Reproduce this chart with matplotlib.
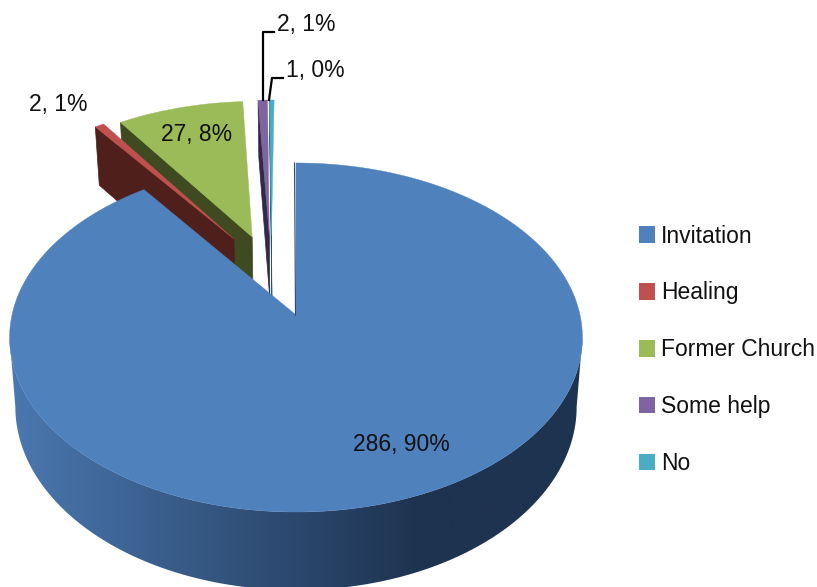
import numpy as np
import matplotlib
matplotlib.use("Agg")
import matplotlib.pyplot as plt
from matplotlib.patches import Patch, Polygon
from matplotlib.colors import LinearSegmentedColormap

# Data

categories = ["Invitation", "Healing", "Former Church", "Some help", "No"]
values = [286, 2, 27, 2, 1]

# Styles

top_colors = ["#4f81bd", "#c0504d", "#9bbb59", "#8064a2", "#4bacc6"]
wall_colors = ["#1f3552", "#4f1f1c", "#3f4a20", "#32284a", "#1f5866"]
offsets = [(0, 0), (-0.232, 0.470), (-0.164, 0.483), (-0.100, 0.494), (-0.092, 0.494)]
label_pos = [(401, 444), (58, 105), (197, 135), (306, 24), (315, 70)]

plt.rcParams["font.family"] = ["Liberation Sans Narrow", "Liberation Sans", "DejaVu Sans"]

# Perspective of the pie plane, fitted to the picture

CX, CY = 296, 315
K, A, C = 284.0, -131.0, 0.1289
DEPTH = 68
SHRINK = 0.98


def project(u, v):
    d = 1 + C * v
    return CX + K * u / d, (A * v + CY) / d


def project_low(u, v):
    x, y = project(u, v)
    return CX + SHRINK * (x - CX), y + DEPTH / (1 + C * v)


def arc(a0, a1, n=120):
    t = np.radians(np.linspace(a0, a1, n))
    return np.sin(t), np.cos(t)


fig = plt.figure(figsize=(8.17, 5.87), dpi=100)
ax = fig.add_axes([0, 0, 1, 1])
ax.axis("off")

edges = np.concatenate([[0], np.cumsum(values)]) / sum(values) * 360

# Small slices, back to front

for z, i in enumerate([2, 1, 3, 4]):
    a0, a1 = edges[i], edges[i + 1]
    ox, oy = offsets[i]
    # wall under the left radial edge
    rim_u, rim_v = np.sin(np.radians(a0)) + ox, np.cos(np.radians(a0)) + oy
    p1, p2 = project(ox, oy), project(rim_u, rim_v)
    p3, p4 = project_low(rim_u, rim_v), project_low(ox, oy)
    ax.fill([p1[0], p2[0], p3[0], p4[0]], [p1[1], p2[1], p3[1], p4[1]],
            color=wall_colors[i], lw=0.5, zorder=z + 1)
    # top face
    u, v = arc(a0, a1, 40)
    x, y = project(u + ox, v + oy)
    ax0, ay0 = project(ox, oy)
    ax.fill(np.r_[ax0, x], np.r_[ay0, y], color=top_colors[i], lw=0.3, zorder=z + 1)

# Big slice top

u, v = arc(edges[0], edges[1], 500)
xt, yt = project(u, v)
ax.fill(np.r_[CX, xt], np.r_[CY, yt], color=top_colors[0], lw=0.3, zorder=7)
ax.plot([CX - 1.5, CX - 0.5], [163, CY], color="#2b4a70", lw=0.8, zorder=7)

# Big slice wall with its shading, between the two silhouette angles

side = np.degrees(np.arcsin(C))
u, v = arc(90 + side, 270 - side, 300)
xt, yt = project(u, v)
xb, yb = project_low(u, v)
wall_cmap = LinearSegmentedColormap.from_list("wall", ["#4a78b0", "#1e3350"])
shade = np.clip((np.linspace(0, 600, 601) - 10) / 410, 0, 1).reshape(1, -1)
img = ax.imshow(shade, cmap=wall_cmap, extent=(0, 600, 600, 300), aspect="auto", zorder=6)
img.set_clip_path(Polygon(np.c_[np.r_[xt, xb[::-1]], np.r_[yt, yb[::-1]]], transform=ax.transData))

ax.set_xlim(0, 817)
ax.set_ylim(587, 0)

# Data labels

for i in range(len(values)):
    pct = round(values[i] / sum(values) * 100)
    ax.text(label_pos[i][0], label_pos[i][1], f"{values[i]}, {pct}%", fontsize=16.5,
            ha="center", va="center", color="#111111", zorder=10)

# Leader lines

ax.plot([263, 263, 274], [100, 32, 32], color="black", lw=1.6, zorder=9)
ax.plot([269, 272, 283], [100, 78, 78], color="black", lw=1.6, zorder=9)

# Legend

handles = [Patch(facecolor=c, edgecolor="none") for c in top_colors]
ax.legend(handles, categories, loc="center left", bbox_to_anchor=(0.782, 0.404), frameon=False,
          fontsize=16.5, labelspacing=1.48, handlelength=0.72, handleheight=0.72,
          handletextpad=0.26, borderpad=0, borderaxespad=0, labelcolor="#111111")

fig.savefig("out.png", dpi=100)
